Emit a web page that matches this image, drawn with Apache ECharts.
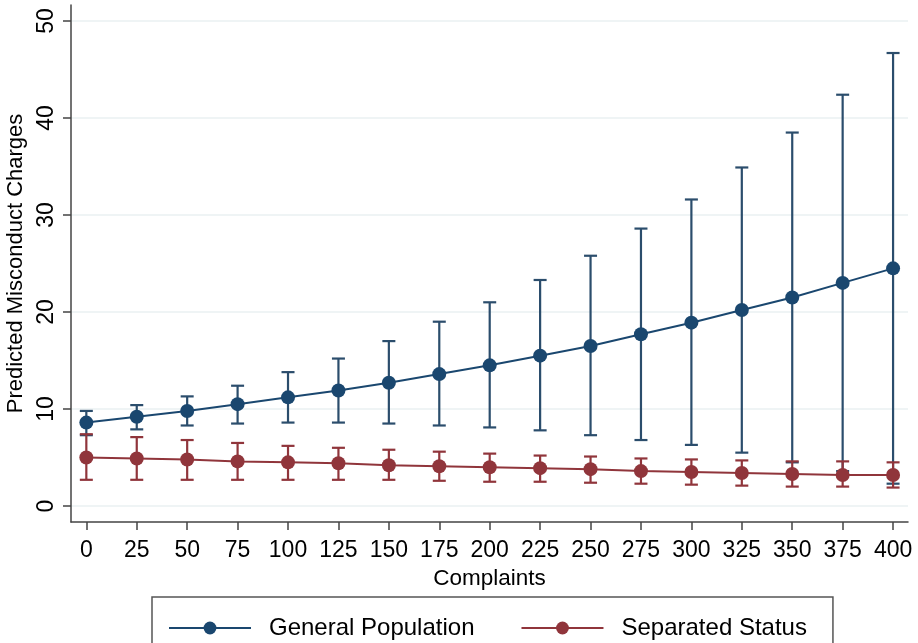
<!DOCTYPE html>
<html>
<head>
<meta charset="utf-8">
<script src="https://cdn.jsdelivr.net/npm/echarts@6/dist/echarts.min.js"></script>
<style>
html,body{margin:0;padding:0;background:#fff;}
#chart{width:918px;height:643px;}
</style>
</head>
<body>
<div id="chart"></div>
<script>
// ---- data ----
var complaints = [0,25,50,75,100,125,150,175,200,225,250,275,300,325,350,375,400];
var generalMean  = [8.6, 9.2, 9.8, 10.5, 11.2, 11.9, 12.7, 13.6, 14.5, 15.5, 16.5, 17.7, 18.9, 20.2, 21.5, 23.0, 24.5];
var generalUpper = [9.8, 10.4, 11.3, 12.4, 13.8, 15.2, 17.0, 19.0, 21.0, 23.3, 25.8, 28.6, 31.6, 34.9, 38.5, 42.4, 46.7];
var generalLower = [7.3, 7.9, 8.3, 8.5, 8.6, 8.6, 8.5, 8.3, 8.1, 7.8, 7.3, 6.8, 6.3, 5.5, 4.5, 3.6, 2.3];
var separatedMean  = [5.0, 4.9, 4.8, 4.6, 4.5, 4.4, 4.2, 4.1, 4.0, 3.9, 3.8, 3.6, 3.5, 3.4, 3.3, 3.2, 3.2];
var separatedUpper = [7.4, 7.1, 6.8, 6.5, 6.2, 6.0, 5.8, 5.6, 5.4, 5.2, 5.1, 4.9, 4.8, 4.7, 4.6, 4.6, 4.5];
var separatedLower = [2.7, 2.7, 2.7, 2.7, 2.7, 2.7, 2.7, 2.6, 2.5, 2.5, 2.4, 2.3, 2.2, 2.1, 2.0, 2.0, 1.9];
var xTicks = [0,25,50,75,100,125,150,175,200,225,250,275,300,325,350,375,400];
var yTicks = [0,10,20,30,40,50];
var seriesNames = ['General Population','Separated Status'];

var BLUE = '#1a476f';
var RED = '#90353b';
var FONT = '"Liberation Sans", Arial, Helvetica, sans-serif';

function pairs(xs, ys){ return xs.map(function(x,i){ return [x, ys[i]]; }); }
function triples(xs, lo, hi){ return xs.map(function(x,i){ return [x, lo[i], hi[i]]; }); }

function errRenderer(color){
  return function(params, api){
    var x = api.value(0), lo = api.value(1), hi = api.value(2);
    var pLo = api.coord([x, lo]), pHi = api.coord([x, hi]);
    var hw = 6.5;
    var style = {stroke: color, lineWidth: 2.2, fill: null};
    return {type:'group', children:[
      {type:'line', shape:{x1:pLo[0], y1:pLo[1], x2:pHi[0], y2:pHi[1]}, style: style},
      {type:'line', shape:{x1:pLo[0]-hw, y1:pLo[1], x2:pLo[0]+hw, y2:pLo[1]}, style: style},
      {type:'line', shape:{x1:pHi[0]-hw, y1:pHi[1], x2:pHi[0]+hw, y2:pHi[1]}, style: style}
    ]};
  };
}

var chart = echarts.init(document.getElementById('chart'), null, {renderer:'canvas'});
chart.setOption({
  backgroundColor: '#ffffff',
  animation: false,
  textStyle: {fontFamily: FONT},
  grid: {left: 71, right: 10, top: 5, bottom: 121, containLabel: false, outerBoundsMode: 'none'},
  legend: {
    data: seriesNames,
    left: 152,
    top: 597,
    orient: 'horizontal',
    itemWidth: 82,
    itemHeight: 16,
    itemGap: 46,
    padding: [19, 26, 20, 16],
    borderColor: '#555555',
    borderWidth: 1.5,
    borderRadius: 0,
    textStyle: {fontSize: 24, color: '#000', fontFamily: FONT, padding: [0, 0, 0, 13]}
  },
  xAxis: {
    type: 'value',
    min: -7.6,
    max: 407.4,
    name: 'Complaints',
    nameLocation: 'middle',
    nameGap: 42,
    nameTextStyle: {fontSize: 22.5, color: '#000', fontFamily: FONT},
    axisLine: {show: true, onZero: false, lineStyle: {color: '#444', width: 1.5}},
    axisTick: {show: true, length: 8, customValues: xTicks, lineStyle: {color: '#444', width: 1.5}},
    axisLabel: {show: true, customValues: xTicks, fontSize: 23, color: '#000', margin: 17, fontFamily: FONT},
    splitLine: {show: false}
  },
  yAxis: {
    type: 'value',
    min: -1.65,
    max: 51.65,
    name: 'Predicted Misconduct Charges',
    nameLocation: 'middle',
    nameGap: 41,
    nameTextStyle: {fontSize: 22, color: '#000', fontFamily: FONT},
    axisLine: {show: true, onZero: false, lineStyle: {color: '#444', width: 1.5}},
    axisTick: {show: true, length: 8, customValues: yTicks, lineStyle: {color: '#444', width: 1.5}},
    axisLabel: {show: true, customValues: yTicks, rotate: 90, fontSize: 23, color: '#000', margin: 13, fontFamily: FONT},
    splitLine: {show: true, lineStyle: {color: '#eaf0f2', width: 1.5}}
  },
  series: [
    {
      type: 'custom',
      name: 'genCI',
      renderItem: errRenderer('#2b4d6c'),
      encode: {x: 0, y: [1, 2]},
      data: triples(complaints, generalLower, generalUpper),
      z: 1,
      silent: true
    },
    {
      type: 'custom',
      name: 'sepCI',
      renderItem: errRenderer(RED),
      encode: {x: 0, y: [1, 2]},
      data: triples(complaints, separatedLower, separatedUpper),
      z: 2,
      silent: true
    },
    {
      type: 'line',
      name: seriesNames[0],
      data: pairs(complaints, generalMean),
      symbol: 'circle',
      symbolSize: 14,
      showAllSymbol: true,
      lineStyle: {color: BLUE, width: 2},
      itemStyle: {color: BLUE, borderColor: BLUE, borderWidth: 0},
      z: 3
    },
    {
      type: 'line',
      name: seriesNames[1],
      data: pairs(complaints, separatedMean),
      symbol: 'circle',
      symbolSize: 14,
      showAllSymbol: true,
      lineStyle: {color: RED, width: 2},
      itemStyle: {color: RED, borderColor: RED, borderWidth: 0},
      z: 4
    }
  ]
});
</script>
</body>
</html>
